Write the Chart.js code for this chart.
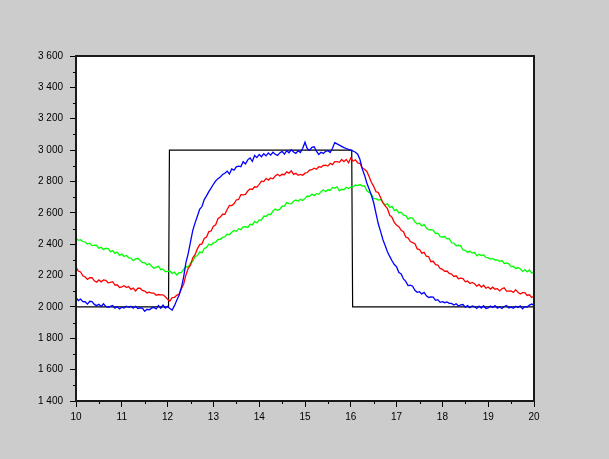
<!DOCTYPE html>
<html>
<head>
<meta charset="utf-8">
<script src="https://cdn.jsdelivr.net/npm/chart.js@4.4.0/dist/chart.umd.min.js"></script>
<style>
  html, body { margin: 0; padding: 0; background: #cccccc; }
  #wrap { width: 609px; height: 459px; }
</style>
</head>
<body>
<div id="wrap"><canvas id="myChart" width="609" height="459"></canvas></div>
<script>
// sampling of the measured series: starts at 10, one sample every 0.05
var xStart = 10;
var xStep = 0.05;

var yTicks = [1400, 1600, 1800, 2000, 2200, 2400, 2600, 2800, 3000, 3200, 3400, 3600];
var xTicks = [10, 11, 12, 13, 14, 15, 16, 17, 18, 19, 20];

// setpoint (step)
var stepX = [10, 12.02, 12.04, 16.02, 16.04, 20];
var stepY = [2000, 2000, 3000, 3000, 2000, 2000];

var blueVals = [
  2060, 2040, 2050, 2034, 2033, 2018, 2036, 2034, 2016, 2008, 2017, 2003, 2020, 2003, 1998, 2004, 2009, 1992, 2001, 1987,
  1998, 1993, 2004, 1997, 2004, 1992, 2004, 1990, 1994, 1993, 1972, 1985, 1981, 1992, 1997, 1987, 2009, 1992, 2012, 1992,
  2003, 1990, 1980, 2008, 2042, 2075, 2122, 2190, 2282, 2340, 2415, 2488, 2536, 2578, 2622, 2640, 2684, 2708, 2735, 2758,
  2782, 2803, 2818, 2828, 2844, 2852, 2866, 2848, 2880, 2872, 2893, 2898, 2894, 2926, 2912, 2938, 2950, 2928, 2966, 2952,
  2972, 2958, 2977, 2963, 2982, 2968, 2986, 2973, 2966, 2982, 2992, 2974, 2996, 2983, 3002, 2988, 2979, 2996, 2984, 3012,
  3050, 3008, 2998, 3018, 3021, 2993, 2972, 2986, 2979, 2992, 2996, 2984, 3012, 3048, 3040, 3032, 3024, 3016, 3010, 3004,
  3000, 2994, 2986, 2974, 2940, 2880, 2840, 2790, 2752, 2712, 2664, 2596, 2530, 2482, 2430, 2392, 2352, 2322, 2294, 2270,
  2255, 2219, 2210, 2178, 2163, 2136, 2138, 2132, 2106, 2093, 2097, 2083, 2092, 2071, 2060, 2064, 2063, 2042, 2046, 2029,
  2034, 2027, 2032, 2023, 2022, 2012, 2020, 2006, 2013, 2015, 1999, 2008, 1995, 2006, 2002, 1990, 2005, 1993, 2007, 1990,
  1994, 2005, 1997, 2008, 1992, 2000, 1990, 2003, 2009, 1993, 1999, 1991, 2004, 1996, 2006, 1988, 2002, 1999, 2012, 2018,
  2010
];

var redVals = [
  2255, 2229, 2223, 2198, 2191, 2175, 2186, 2187, 2166, 2158, 2172, 2160, 2172, 2169, 2154, 2156, 2161, 2139, 2141, 2124,
  2128, 2135, 2124, 2130, 2112, 2120, 2102, 2119, 2119, 2105, 2101, 2089, 2094, 2088, 2088, 2074, 2079, 2077, 2077, 2065,
  2048, 2037, 2059, 2061, 2074, 2081, 2116, 2145, 2204, 2246, 2266, 2313, 2333, 2370, 2397, 2402, 2437, 2446, 2480, 2484,
  2515, 2524, 2563, 2573, 2591, 2590, 2621, 2647, 2646, 2658, 2682, 2685, 2715, 2714, 2717, 2739, 2752, 2749, 2766, 2764,
  2781, 2802, 2799, 2820, 2809, 2822, 2817, 2835, 2846, 2835, 2846, 2843, 2861, 2853, 2868, 2845, 2852, 2839, 2845, 2840,
  2853, 2857, 2872, 2875, 2885, 2878, 2894, 2891, 2902, 2904, 2898, 2915, 2907, 2926, 2926, 2922, 2940, 2926, 2940, 2919,
  2950, 2929, 2938, 2918, 2916, 2885, 2878, 2864, 2831, 2793, 2769, 2735, 2730, 2697, 2664, 2644, 2627, 2584, 2571, 2539,
  2521, 2512, 2489, 2480, 2446, 2440, 2417, 2410, 2403, 2370, 2366, 2343, 2348, 2323, 2320, 2288, 2291, 2269, 2267, 2245,
  2240, 2227, 2229, 2214, 2209, 2194, 2198, 2180, 2184, 2180, 2160, 2165, 2149, 2156, 2148, 2132, 2143, 2126, 2138, 2119,
  2127, 2114, 2126, 2113, 2116, 2102, 2116, 2122, 2101, 2101, 2102, 2093, 2110, 2093, 2082, 2091, 2091, 2073, 2077, 2060,
  2070
];

var greenVals = [
  2438, 2425, 2429, 2417, 2414, 2401, 2406, 2391, 2394, 2393, 2374, 2380, 2365, 2374, 2372, 2352, 2359, 2341, 2350, 2329,
  2337, 2322, 2328, 2313, 2311, 2295, 2306, 2310, 2296, 2283, 2282, 2267, 2276, 2259, 2247, 2254, 2259, 2239, 2241, 2224,
  2226, 2229, 2214, 2222, 2204, 2218, 2218, 2239, 2257, 2253, 2281, 2291, 2322, 2326, 2351, 2344, 2373, 2379, 2400, 2395,
  2408, 2413, 2430, 2431, 2443, 2446, 2465, 2460, 2476, 2488, 2482, 2499, 2493, 2511, 2512, 2507, 2527, 2523, 2545, 2536,
  2555, 2554, 2578, 2578, 2591, 2588, 2612, 2624, 2616, 2623, 2642, 2643, 2665, 2659, 2657, 2674, 2682, 2674, 2686, 2679,
  2692, 2707, 2705, 2720, 2710, 2722, 2718, 2735, 2747, 2735, 2747, 2743, 2762, 2758, 2766, 2740, 2750, 2747, 2763, 2755,
  2764, 2765, 2777, 2774, 2780, 2770, 2772, 2740, 2730, 2718, 2690, 2690, 2681, 2685, 2668, 2649, 2658, 2635, 2641, 2615,
  2621, 2599, 2604, 2585, 2582, 2560, 2569, 2566, 2542, 2530, 2533, 2516, 2526, 2503, 2491, 2493, 2490, 2468, 2470, 2448,
  2446, 2449, 2434, 2435, 2409, 2407, 2390, 2393, 2389, 2363, 2361, 2348, 2356, 2343, 2348, 2326, 2336, 2327, 2332, 2315,
  2313, 2305, 2309, 2299, 2300, 2290, 2296, 2277, 2280, 2275, 2257, 2259, 2244, 2251, 2243, 2226, 2238, 2223, 2236, 2215,
  2224
];

function toPoints(vals){
    var pts = [];
    for(let i=0; i < vals.length; i++){
        pts.push({x: +(xStart + i*xStep).toFixed(2), y: vals[i]});
    }
    return pts;
}

function zipPoints(xs, ys){
    var pts = [];
    for(let i=0; i < xs.length; i++){
        pts.push({x: xs[i], y: ys[i]});
    }
    return pts;
}

function fmt(v){
    // "3 600" style thousands separator
    return String(v).replace(/\B(?=(\d{3})+(?!\d))/g, ' ');
}

// white plot background, frame and minor ticks
var framePlugin = {
    id: 'frame',
    beforeDraw: function(chart){
        var a = chart.chartArea, ctx = chart.ctx;
        ctx.save();
        ctx.fillStyle = '#ffffff';
        ctx.fillRect(a.left, a.top, a.right - a.left, a.bottom - a.top);
        ctx.restore();
    },
    afterDraw: function(chart){
        var a = chart.chartArea, ctx = chart.ctx;
        var xs = chart.scales.x, ys = chart.scales.y;
        ctx.save();
        ctx.strokeStyle = '#000000';
        ctx.lineWidth = 1;
        ctx.beginPath();
        for(let i=0; i < yTicks.length - 1; i++){
            var py = Math.round(ys.getPixelForValue((yTicks[i] + yTicks[i+1]) / 2)) + 0.5;
            ctx.moveTo(a.left - 3, py); ctx.lineTo(a.left, py);
        }
        for(let i=0; i < xTicks.length - 1; i++){
            var px = Math.round(xs.getPixelForValue((xTicks[i] + xTicks[i+1]) / 2)) + 0.5;
            ctx.moveTo(px, a.bottom); ctx.lineTo(px, a.bottom + 3);
        }
        ctx.stroke();
        ctx.strokeStyle = '#1a1a1a';
        ctx.lineWidth = 2;
        ctx.strokeRect(a.left, a.top, a.right - a.left, a.bottom - a.top);
        ctx.restore();
    }
};

var ctx = document.getElementById('myChart').getContext('2d');
var myChart = new Chart(ctx, {
    type: 'line',
    data: {
        datasets: [{
            data: toPoints(blueVals),
            borderColor: '#0000ff',
            borderWidth: 1.3,
            pointRadius: 0,
            tension: 0
        },
        {
            data: toPoints(redVals),
            borderColor: '#ff0000',
            borderWidth: 1.3,
            pointRadius: 0,
            tension: 0
        },
        {
            data: toPoints(greenVals),
            borderColor: '#00ff00',
            borderWidth: 1.3,
            pointRadius: 0,
            tension: 0
        },
        {
            data: zipPoints(stepX, stepY),
            borderColor: '#000000',
            borderWidth: 1.2,
            pointRadius: 0,
            tension: 0
        }]
    },
    options: {
        responsive: false,
        animation: false,
        events: [],
        layout: { padding: { left: 0, top: 56, right: 75, bottom: 0 } },
        plugins: {
            legend: { display: false },
            tooltip: { enabled: false }
        },
        scales: {
            x: {
                type: 'linear',
                min: 10,
                max: 20,
                afterFit: function(s){ s.height = 58; },
                afterBuildTicks: function(s){ s.ticks = xTicks.map(v => ({value: v})); },
                border: { display: false },
                grid: { drawOnChartArea: false, tickLength: 6, color: '#000000', tickColor: '#000000' },
                ticks: {
                    color: '#000000',
                    padding: 4,
                    maxRotation: 0,
                    font: { family: 'Liberation Sans', size: 10 },
                    callback: function(v){ return fmt(v); }
                }
            },
            y: {
                min: 1400,
                max: 3600,
                afterFit: function(s){ s.width = 76; },
                afterBuildTicks: function(s){ s.ticks = yTicks.map(v => ({value: v})); },
                border: { display: false },
                grid: { drawOnChartArea: false, tickLength: 6, color: '#000000', tickColor: '#000000' },
                ticks: {
                    color: '#000000',
                    padding: 7,
                    font: { family: 'Liberation Sans', size: 10 },
                    callback: function(v){ return fmt(v); }
                }
            }
        }
    },
    plugins: [framePlugin]
});
</script>
</body>
</html>
